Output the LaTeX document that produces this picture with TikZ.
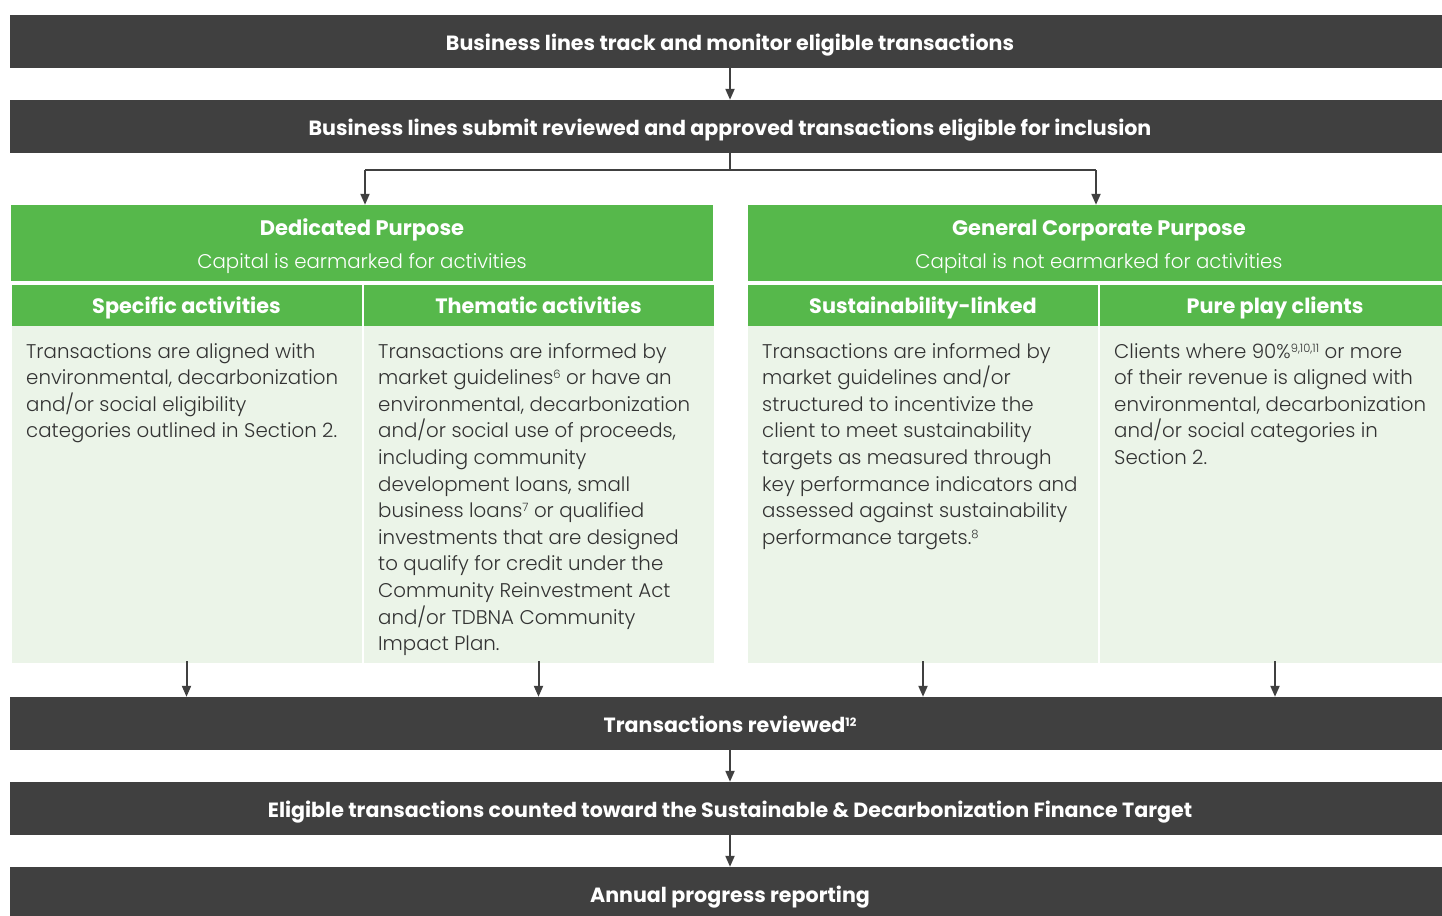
\documentclass[tikz,border=0pt]{standalone}
\usepackage{fontspec}
\setmainfont{Poppins}
\newfontfamily\plight{Poppins Light}
\usetikzlibrary{arrows.meta}
\definecolor{dark}{HTML}{404040}
\definecolor{tdgreen}{HTML}{56B84B}
\definecolor{pale}{HTML}{EBF4E8}
\definecolor{bodytxt}{HTML}{333333}
\newcommand{\sups}[1]{\smash{\raisebox{6pt}{\fontsize{11.5}{11.5}\selectfont #1}}}
\tikzset{
  bar/.style={fill=dark, text=white, font=\bfseries\fontsize{20.6}{24}\selectfont, minimum width=1440pt, minimum height=53pt, inner sep=0pt, text height=18pt, text depth=0pt},
  ghead/.style={fill=tdgreen, text=white, minimum width=702pt, minimum height=76pt, inner sep=0pt},
  gtxt/.style={text=white, inner sep=0pt, text height=14.5pt, text depth=0pt},
  gsub/.style={fill=tdgreen, text=white, font=\bfseries\fontsize{20.8}{24}\selectfont, minimum width=350pt, minimum height=42pt, inner sep=0pt, text height=14.5pt, text depth=0pt},
  cell/.style={fill=pale, minimum width=350pt, minimum height=337pt, inner sep=0pt},
  btxt/.style={text=bodytxt, anchor=north west, align=left, inner sep=0pt, font=\plight\fontsize{19.8}{26.6}\selectfont},
  arr/.style={draw=dark, line width=2pt, -{Triangle[width=9pt,length=11pt]}},
}
\begin{document}
\begin{tikzpicture}[x=1pt,y=-1pt]
\clip (0,0) rectangle (1442,915);
\fill[white] (0,0) rectangle (1442,915);
% bars
\node[bar] (bar1) at (730,41.5) {Business lines track and monitor eligible transactions};
\node[bar] (bar2) at (730,126.5) {Business lines submit reviewed and approved transactions eligible for inclusion};
\node[bar] (bar3) at (730,723.5) {Transactions reviewed\sups{12}};
\node[bar] (bar4) at (730,808.5) {Eligible transactions counted toward the Sustainable \& Decarbonization Finance Target};
\node[bar] (bar5) at (730,893.5) {Annual progress reporting};
% green headers
\node[ghead] (dp) at (362,243) {};
\node[ghead] (gcp) at (1099,243) {};
\node[gtxt, font=\bfseries\fontsize{21}{24}\selectfont] (dpt) at (362,228) {Dedicated Purpose};
\node[gtxt, font=\plight\fontsize{19.8}{24}\selectfont] (dps) at (362,261) {Capital is earmarked for activities};
\node[gtxt, font=\bfseries\fontsize{21}{24}\selectfont] (gcpt) at (1099,228) {General Corporate Purpose};
\node[gtxt, font=\plight\fontsize{19.8}{24}\selectfont] (gcps) at (1099,261) {Capital is not earmarked for activities};
% sub headers
\node[gsub] (s1) at (186.5,306) {Specific activities};
\node[gsub] (s2) at (538.5,306) {Thematic activities};
\node[gsub] (s3) at (923,306) {Sustainability-linked};
\node[gsub] (s4) at (1275,306) {Pure play clients};
% body cells
\node[cell] (c1) at (186.5,494.5) {};
\node[cell] (c2) at (538.5,494.5) {};
\node[cell] (c3) at (923,494.5) {};
\node[cell] (c4) at (1275,494.5) {};
\node[btxt] (t1) at (26,343) {Transactions are aligned with\\environmental, decarbonization\\and/or social eligibility\\categories outlined in Section 2.};
\node[btxt] (t2) at (378,343) {Transactions are informed by\\market guidelines\sups{6} or have an\\environmental, decarbonization\\and/or social use of proceeds,\\including community\\development loans, small\\business loans\sups{7} or qualified\\investments that are designed\\to qualify for credit under the\\Community Reinvestment Act\\and/or TDBNA Community\\Impact Plan.};
\node[btxt] (t3) at (762,343) {Transactions are informed by\\market guidelines and/or\\structured to incentivize the\\client to meet sustainability\\targets as measured through\\key performance indicators and\\assessed against sustainability\\performance targets.\sups{8}};
\node[btxt] (t4) at (1114,343) {Clients where 90\%\sups{9,10,11} or more\\of their revenue is aligned with\\environmental, decarbonization\\and/or social categories in\\Section 2.};
% connectors
\draw[arr] (bar1.south) -- (bar2.north);
\coordinate (bl) at (365,170);
\coordinate (br) at (1096,170);
\draw[draw=dark, line width=2pt] (bar2.south) -- ++(0,17) coordinate (bm);
\draw[draw=dark, line width=2pt] (bl) -- (br);
\draw[arr] (bl) -- (bl |- dp.north);
\draw[arr] (br) -- (br |- gcp.north);
\foreach \c in {c1,c2,c3,c4}{
  \draw[arr] ([yshift=2pt]\c.south) -- (\c.south |- bar3.north);
}
\draw[arr] (bar3.south) -- (bar4.north);
\draw[arr] (bar4.south) -- (bar5.north);
\end{tikzpicture}
\end{document}
